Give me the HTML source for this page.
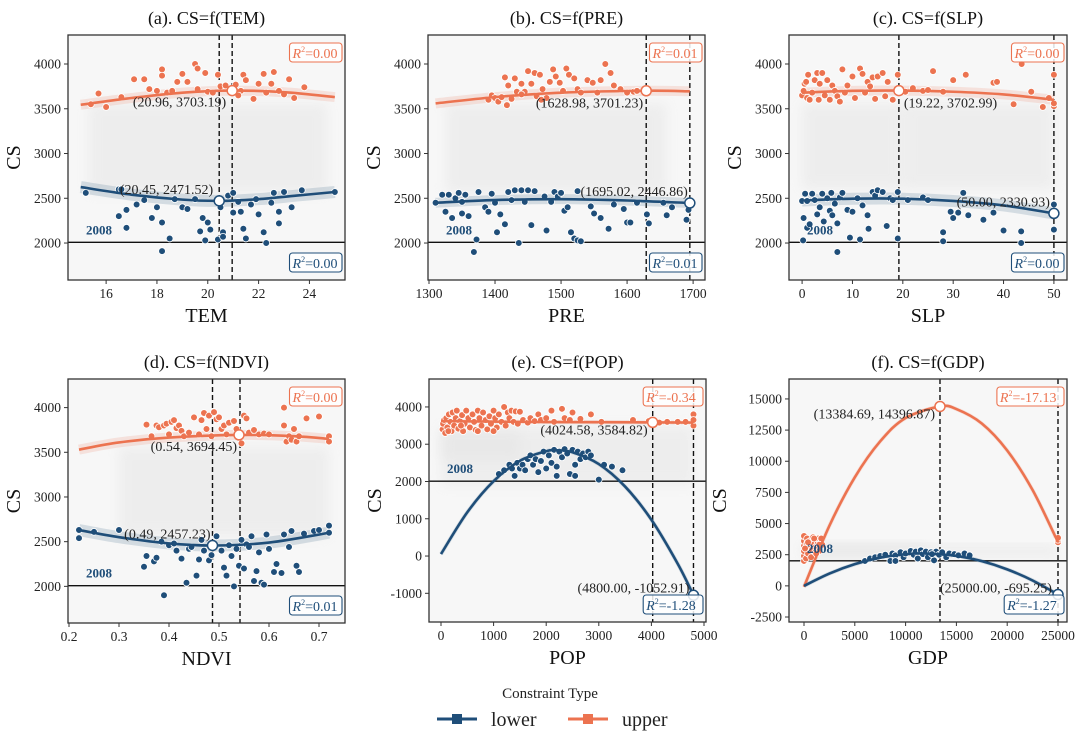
<!DOCTYPE html>
<html><head><meta charset="utf-8"><style>
html,body{margin:0;padding:0;background:#fff;}
svg{display:block;font-family:"Liberation Serif",serif;}
</style></head><body>
<svg id="chart" width="1080" height="746" viewBox="0 0 1080 746" xmlns="http://www.w3.org/2000/svg">
<defs>
<filter id="blur" x="-20%" y="-20%" width="140%" height="140%"><feGaussianBlur stdDeviation="6"/></filter>
</defs>
<g id="legend">
<text x="550" y="698" text-anchor="middle" font-size="15" fill="#222">Constraint Type</text>
<g>
<line x1="437" y1="719" x2="477" y2="719" stroke="#1f4e79" stroke-width="3"/>
<rect x="452" y="714" width="10" height="10" fill="#1f4e79"/>
<text x="491" y="726" font-size="20" fill="#222">lower</text>
</g>
<g>
<line x1="568" y1="719" x2="608" y2="719" stroke="#ec7350" stroke-width="3"/>
<rect x="583" y="714" width="10" height="10" fill="#ec7350"/>
<text x="622" y="726" font-size="20" fill="#222">upper</text>
</g>
</g>
</svg>
<script>
// ---------- data ----------
const yTicksStd = [2000,2500,3000,3500,4000];
const temTicks = [16,18,20,22,24];
const preTicks = [1300,1400,1500,1600,1700];
const slpTicks = [0,10,20,30,40,50];
const ndviTicks = [0.2,0.3,0.4,0.5,0.6,0.7];
const popTicks = [0,1000,2000,3000,4000,5000];
const popYTicks = [-1000,0,1000,2000,3000,4000];
const gdpTicks = [0,5000,10000,15000,20000,25000];
const gdpYTicks = [-2500,0,2500,5000,7500,10000,12500,15000];

const temUpper = [[15.4,3550],[15.7,3670],[16.0,3520],[16.6,3630],[17.1,3830],[17.5,3830],[17.7,3720],[18.0,3700],[18.2,3940],[18.2,3870],[18.4,3680],[18.8,3800],[19.0,3890],[19.2,3800],[19.5,4000],[19.6,3950],[19.6,3720],[19.9,3900],[20.0,3690],[20.4,3880],[20.5,3750],[20.7,3760],[21.1,3770],[21.3,3700],[21.4,3880],[21.5,3820],[21.8,3610],[22.0,3780],[22.2,3890],[22.3,3680],[22.5,3780],[22.6,3910],[22.8,3700],[23.0,3660],[23.2,3830],[23.4,3620],[23.8,3740],[21.2,3650],[20.2,3680],[18.6,3700]];
const temLower = [[15.2,2560],[16.5,2600],[16.6,2600],[16.5,2300],[16.8,2370],[16.8,2170],[17.2,2430],[17.5,2480],[17.8,2280],[18.0,2400],[18.2,2230],[18.2,1910],[18.5,2050],[18.7,2490],[19.0,2400],[19.2,2380],[19.5,2490],[19.7,2130],[19.8,2280],[19.9,2030],[20.0,2230],[20.1,2150],[20.4,2040],[20.5,2400],[20.6,2120],[20.6,2070],[20.8,2530],[21.0,2340],[21.0,2560],[21.3,2350],[21.4,2160],[21.5,2050],[21.7,2430],[21.9,2490],[22.0,2320],[22.2,2120],[22.3,2000],[22.5,2450],[22.8,2220],[22.8,2350],[23.0,2570],[23.3,2400],[23.7,2590],[25.0,2570],[22.6,2560],[21.2,2460]];
const temUpperFit = [[15,3545],[17,3620],[19,3680],[20.96,3703],[23,3685],[25,3630]];
const temLowerFit = [[15,2625],[17,2540],[19,2485],[20.45,2471],[22,2490],[23.5,2530],[25,2570]];
const temVertex = [[20.96,3703.19],[20.45,2471.52]];

const preUpper = [[1390,3600],[1395,3650],[1400,3620],[1405,3580],[1410,3630],[1415,3850],[1418,3540],[1420,3760],[1425,3610],[1430,3840],[1433,3690],[1440,3780],[1445,3690],[1450,3920],[1455,3780],[1460,3900],[1463,3640],[1468,3880],[1472,3720],[1478,3620],[1483,3800],[1488,3940],[1492,3860],[1498,3790],[1503,3700],[1508,3950],[1512,3880],[1520,3840],[1525,3720],[1530,3680],[1540,3820],[1548,3790],[1555,3680],[1560,3820],[1567,4000],[1575,3900],[1580,3760],[1590,3720],[1600,3680],[1610,3690],[1615,3700],[1470,3600],[1440,3660]];
const preLower = [[1310,2450],[1320,2540],[1325,2350],[1330,2540],[1335,2280],[1340,2500],[1345,2560],[1350,2460],[1350,2330],[1355,2540],[1360,2300],[1368,1900],[1372,2040],[1375,2570],[1385,2400],[1390,2350],[1395,2550],[1400,2450],[1403,2120],[1408,2320],[1415,2210],[1420,2570],[1425,2480],[1430,2590],[1436,2000],[1440,2590],[1445,2460],[1450,2590],[1455,2200],[1460,2580],[1475,2520],[1478,2140],[1485,2460],[1490,2570],[1495,2520],[1500,2560],[1505,2360],[1510,2400],[1515,2120],[1520,2050],[1525,2030],[1530,2020],[1525,2580],[1545,2410],[1550,2330],[1560,2280],[1572,2160],[1580,2430],[1595,2380],[1600,2230],[1605,2230],[1615,2450],[1630,2320],[1633,2220],[1655,2450],[1660,2310],[1668,2400],[1690,2260],[1693,2370]];
const preUpperFit = [[1310,3560],[1400,3630],[1500,3680],[1628.98,3701],[1695,3695]];
const preLowerFit = [[1310,2450],[1400,2480],[1500,2490],[1600,2475],[1695,2447]];
const preVertex = [[1628.98,3701.23],[1695.02,2446.86]];

const slpUpper = [[0,3650],[0.3,3700],[0.5,3780],[0.8,3800],[1,3620],[1.2,3880],[1.5,3600],[2,3680],[2.5,3820],[3,3900],[3.3,3600],[3.5,3780],[4,3900],[4.5,3650],[5,3820],[5.5,3600],[6,3760],[6.5,3700],[7,3640],[7.5,3580],[8,3940],[8.5,3680],[9,3760],[10,3860],[10.5,3620],[11.5,3950],[12,3890],[12.5,3680],[13,3800],[13.5,3750],[14,3850],[14.5,3610],[15,3860],[16,3900],[16.5,3640],[17,3800],[18,3600],[19,3880],[18.8,3700],[20.5,3690],[22,3730],[24,3700],[25,3710],[26,3920],[28,3690],[30,3820],[32.5,3880],[38,3790],[38.7,3800],[42,3550],[45.5,3690],[47.8,3520],[49,3620],[50,3530],[50,3880],[43.6,4000],[50,3560]];
const slpLower = [[0,2470],[0.2,2030],[0.3,2280],[0.6,2550],[1,2170],[1,2470],[1.5,2210],[2,2550],[2.5,2480],[3,2320],[3.5,2400],[4,2550],[4.3,2240],[5,2500],[5.5,2360],[5.8,2560],[6,2310],[6.5,2440],[7,2220],[7,1900],[7.5,2510],[8,2560],[9,2370],[9.5,2060],[10,2350],[11,2500],[11.5,2040],[12,2420],[13,2310],[13.2,2160],[14,2570],[14.5,2530],[15,2590],[16,2570],[16.8,2190],[17.5,2500],[18,2480],[19,2050],[19,2570],[21,2480],[24,2510],[25,2480],[28,2120],[28,2020],[29.5,2350],[30,2280],[31,2340],[32,2560],[33,2310],[36,2260],[38,2340],[40,2140],[43.5,2130],[43.5,2000],[50,2430],[50,2150]];
const slpUpperFit = [[0,3680],[10,3700],[19.22,3703],[30,3690],[40,3660],[50,3600]];
const slpLowerFit = [[0,2475],[10,2495],[20,2495],[30,2470],[40,2420],[50,2331]];
const slpVertex = [[19.22,3702.99],[50,2330.93]];

const ndviUpper = [[0.355,3810],[0.365,3680],[0.375,3800],[0.38,3780],[0.39,3800],[0.395,3820],[0.40,3700],[0.405,3840],[0.41,3860],[0.415,3770],[0.42,3800],[0.425,3740],[0.43,3680],[0.44,3720],[0.45,3890],[0.46,3700],[0.465,3860],[0.47,3940],[0.475,3760],[0.48,3910],[0.485,3680],[0.49,3950],[0.495,3870],[0.50,3890],[0.505,3760],[0.51,3800],[0.515,3700],[0.52,3830],[0.53,3850],[0.535,3760],[0.545,3600],[0.55,3910],[0.555,3880],[0.56,3720],[0.57,3750],[0.58,3700],[0.59,3710],[0.60,3700],[0.63,4000],[0.63,3800],[0.635,3620],[0.64,3680],[0.645,3640],[0.65,3760],[0.655,3620],[0.675,3880],[0.70,3900],[0.72,3680],[0.72,3620],[0.66,3680]];
const ndviLower = [[0.22,2630],[0.22,2540],[0.25,2610],[0.30,2630],[0.35,2220],[0.355,2340],[0.37,2280],[0.375,2320],[0.385,2500],[0.39,1900],[0.40,2460],[0.41,2480],[0.415,2400],[0.425,2310],[0.435,2040],[0.44,2420],[0.445,2440],[0.455,2120],[0.46,2300],[0.465,2520],[0.47,2400],[0.48,2290],[0.485,2350],[0.495,2560],[0.505,2400],[0.51,2210],[0.515,2120],[0.52,2460],[0.525,2340],[0.53,2000],[0.535,2420],[0.54,2230],[0.545,2520],[0.55,2200],[0.555,2470],[0.56,2440],[0.565,2560],[0.57,2060],[0.575,2170],[0.58,2380],[0.585,2040],[0.59,2020],[0.595,2580],[0.60,2420],[0.61,2160],[0.615,2250],[0.625,2150],[0.63,2580],[0.64,2440],[0.645,2620],[0.655,2230],[0.66,2160],[0.67,2590],[0.69,2620],[0.70,2630],[0.72,2680],[0.72,2600]];
const ndviUpperFit = [[0.22,3530],[0.3,3610],[0.4,3665],[0.54,3694],[0.65,3680],[0.72,3650]];
const ndviLowerFit = [[0.22,2630],[0.3,2550],[0.4,2480],[0.49,2457],[0.6,2490],[0.72,2600]];
const ndviVertex = [[0.54,3694.45],[0.487,2457.23]];

const popUpper = [[30,3400],[40,3550],[60,3650],[80,3300],[100,3700],[120,3450],[150,3800],[180,3600],[200,3350],[220,3850],[250,3500],[280,3700],[300,3900],[330,3420],[360,3620],[400,3780],[420,3350],[450,3550],[480,3900],[520,3700],[550,3450],[600,3800],[630,3600],[660,3380],[700,3900],[730,3700],[770,3500],[800,3850],[850,3650],[880,3400],[920,3750],[950,3550],[1000,3900],[1030,3700],[1060,3450],[1100,3800],[1150,3600],[1200,4000],[1230,3500],[1270,3850],[1300,3700],[1340,3900],[1380,3600],[1420,3880],[1460,3550],[1500,3870],[1560,3650],[1650,3580],[1700,3700],[1780,3620],[1850,3800],[1900,3650],[2000,3700],[2100,3900],[2150,3600],[2300,3950],[2350,3700],[2450,3650],[2500,3850],[2650,3680],[2850,3800],[3050,3600],[3650,3650],[3950,3620],[4150,3580],[4300,3600],[4500,3600],[4650,3600],[4800,3800],[4800,3500],[4800,3650],[140,3350],[700,3350],[380,3500],[1000,3350]];
const popLower = [[1100,2200],[1200,2300],[1300,2450],[1350,2350],[1400,2150],[1450,2500],[1500,2350],[1550,2450],[1650,2600],[1700,2700],[1750,2450],[1800,2600],[1850,2250],[1900,2550],[1950,2800],[2000,2350],[2050,2700],[2100,2500],[2150,2850],[2200,2400],[2250,2800],[2300,2650],[2350,2870],[2400,2750],[2450,2200],[2500,2850],[2550,2450],[2600,2800],[2650,2600],[2700,2750],[2750,2650],[2800,2800],[2850,2700],[2550,2150],[3000,2050],[3100,2450],[3250,2400],[3450,2300],[2200,2150],[1600,2300]];
const popUpperFit = [[0,3620],[1500,3600],[3000,3590],[4024.58,3585],[4800,3580]];
const popLowerFit = [[0,53],[500,1174],[1000,2008],[1500,2554],[2000,2813],[2200,2836],[2500,2784],[3000,2468],[3500,1864],[4000,973],[4500,-206],[4800,-1051]];
const popVertex = [[4024.58,3584.82],[4800,-1052.91]];

const gdpUpper = [[0,2000],[0,2400],[0,2800],[0,3200],[0,3600],[0,4000],[200,2200],[200,3000],[300,3400],[300,3800],[400,2600],[500,3100],[600,3600],[700,2300],[800,2900],[900,3900],[1000,3300],[1100,2700],[1200,3600],[1300,3100],[1400,3800],[1500,2800],[1600,3400],[1700,3800],[1800,3300],[100,3000],[700,3500],[1200,2600],[25000,3500],[25000,3700],[25000,3850],[400,3500],[1000,3800],[1500,3300]];
const gdpLower = [[6000,2000],[6500,2200],[7000,2300],[7500,2400],[8000,2500],[8500,2000],[8700,2600],[9000,2450],[9500,2700],[9800,2300],[10000,2600],[10500,2800],[10800,2500],[11000,2750],[11200,2200],[11500,2850],[11700,2550],[12000,2750],[12200,2300],[12500,2700],[12800,2050],[13000,2750],[13300,2500],[13600,2700],[14000,2300],[14300,2600],[14800,2550],[15200,2450],[15800,2600],[16300,2450],[9000,2000],[12600,2550]];
const gdpUpperFit = [[0,-77],[2500,4824],[5000,8713],[7500,11600],[10000,13471],[13384.69,14397],[15000,14186],[17500,13029],[20000,10862],[22500,7688],[25000,3500]];
const gdpLowerFit = [[0,0],[2500,987],[5000,1741],[7500,2259],[10000,2542],[11760,2600],[15000,2403],[17500,1981],[20000,1324],[22500,432],[25000,-695]];
const gdpVertex = [[13384.69,14396.87],[25000,-695.25]];

const refYear = 2008;
const r2Upper = ["0.00","0.01","0.00","0.00","-0.34","-17.13"];
const r2Lower = ["0.00","0.01","0.00","0.01","-1.28","-1.27"];

// ---------- layout ----------
const ORANGE="#ec7350", BLUE="#1f4e79";
const svg=document.getElementById('chart');
const NS="http://www.w3.org/2000/svg";
function mk(tag,attrs,parent){const e=document.createElementNS(NS,tag);for(const k in attrs)e.setAttribute(k,attrs[k]);(parent||svg).appendChild(e);return e;}
function fmt(v,dec){return dec!=null?v.toFixed(dec):String(v);}
function smoothPath(pts){
  let d="M"+pts[0][0]+","+pts[0][1];
  for(let i=0;i<pts.length-1;i++){
    const p0=pts[Math.max(0,i-1)],p1=pts[i],p2=pts[i+1],p3=pts[Math.min(pts.length-1,i+2)];
    const c1=[p1[0]+(p2[0]-p0[0])/6,p1[1]+(p2[1]-p0[1])/6];
    const c2=[p2[0]-(p3[0]-p1[0])/6,p2[1]-(p3[1]-p1[1])/6];
    d+=" C"+c1[0]+","+c1[1]+" "+c2[0]+","+c2[1]+" "+p2[0]+","+p2[1];
  }
  return d;
}
const panels=[
 {id:"tem",title:"(a). CS=f(TEM)",xl:"TEM",px:[68,345],py:[35,280],xd:[14.5,25.4],yd:[1587,4324],xt:temTicks,yt:yTicksStd,xdec:null,
  up:temUpper,lo:temLower,uf:temUpperFit,lf:temLowerFit,vx:temVertex,vlines:[20.45,20.96],band:[5,6],
  cloud:[[15.3,2560,24.7,3560]],ann:[["end",-6,16],["end",-6,-7]],r2:0},
 {id:"pre",title:"(b). CS=f(PRE)",xl:"PRE",px:[428,705],py:[35,280],xd:[1298.5,1718],yd:[1587,4324],xt:preTicks,yt:yTicksStd,
  up:preUpper,lo:preLower,uf:preUpperFit,lf:preLowerFit,vx:preVertex,vlines:[1628.98,1695.02],band:[5,5],
  cloud:[[1325,2560,1660,3560]],ann:[["end",-3,17],["end",-2,-7]],r2:1},
 {id:"slp",title:"(c). CS=f(SLP)",xl:"SLP",px:[789,1067],py:[35,280],xd:[-2.6,52.6],yd:[1587,4324],xt:slpTicks,yt:yTicksStd,
  up:slpUpper,lo:slpLower,uf:slpUpperFit,lf:slpLowerFit,vx:slpVertex,vlines:[19.22,50],band:[5,6],
  cloud:[[0,2600,20,3560],[20,2600,50,3560]],ann:[["start",5,17],["end",-4,-7]],r2:2},
 {id:"ndvi",title:"(d). CS=f(NDVI)",xl:"NDVI",px:[68,345],py:[379,623],xd:[0.198,0.752],yd:[1590,4320],xt:ndviTicks,yt:yTicksStd,xdec:1,
  up:ndviUpper,lo:ndviLower,uf:ndviUpperFit,lf:ndviLowerFit,vx:ndviVertex,vlines:[0.487,0.542],band:[5,6],
  cloud:[[0.3,2560,0.72,3560]],ann:[["end",-2,16],["end",-2,-7]],r2:3},
 {id:"pop",title:"(e). CS=f(POP)",xl:"POP",px:[429,706],py:[379,622],xd:[-228,5038],yd:[-1770,4750],xt:popTicks,yt:popYTicks,
  up:popUpper,lo:popLower,uf:popUpperFit,lf:popLowerFit,vx:popVertex,vlines:[4024.58,4800],band:[2,2],
  cloud:[[0,2600,1500,3350],[0,1900,4800,3500]],ann:[["end",-5,12],["end",-4,-3]],r2:4},
 {id:"gdp",title:"(f). CS=f(GDP)",xl:"GDP",px:[789,1067],py:[379,622],xd:[-1476,25886],yd:[-2900,16600],xt:gdpTicks,yt:gdpYTicks,
  up:gdpUpper,lo:gdpLower,uf:gdpUpperFit,lf:gdpLowerFit,vx:gdpVertex,vlines:[13384.69,25000],band:[2,2],
  cloud:[[0,2300,12000,3500],[0,2300,25000,3300]],ann:[["end",-5,12],["end",-6,-2]],r2:5}
];
panels.forEach(P=>{
  const sx=v=>P.px[0]+(v-P.xd[0])/(P.xd[1]-P.xd[0])*(P.px[1]-P.px[0]);
  const sy=v=>P.py[1]-(v-P.yd[0])/(P.yd[1]-P.yd[0])*(P.py[1]-P.py[0]);
  const g=mk('g',{});
  
  
  const W=P.px[1]-P.px[0],H=P.py[1]-P.py[0];
  const bg=mk('rect',{x:P.px[0],y:P.py[0],width:W,height:H,fill:"#f7f7f7"},g);
  
  
  const cp=mk('clipPath',{id:'clip-'+P.id},g);
  mk('rect',{x:P.px[0],y:P.py[0],width:W,height:H},cp);
  const inner=mk('g',{'clip-path':'url(#clip-'+P.id+')'},g);
  P.cloud.forEach(c=>{
    const r=mk('rect',{x:sx(c[0]),y:sy(c[3]),width:sx(c[2])-sx(c[0]),height:sy(c[1])-sy(c[3]),fill:"#e2e2e2",opacity:0.45,filter:"url(#blur)"},inner);
    
    
  });
  const hl=mk('line',{x1:P.px[0],x2:P.px[1],y1:sy(refYear),y2:sy(refYear),stroke:"#111","stroke-width":1.4},inner);
  
  
  P.vlines.forEach(v=>{
    const l=mk('line',{x1:sx(v),x2:sx(v),y1:P.py[0],y2:P.py[1],stroke:"#111","stroke-width":1.4,"stroke-dasharray":"5,3"},inner);
    
    
  });
  [[P.uf,ORANGE,P.band[0],'upper'],[P.lf,BLUE,P.band[1],'lower']].forEach(f=>{
    const pts=f[0].map(p=>[sx(p[0]),sy(p[1])]);
    const b=mk('path',{d:smoothPath(pts),fill:"none",stroke:f[1],"stroke-width":f[2]*2,opacity:0.16,"stroke-linecap":"butt"},inner);
    
    
  });
  [[P.up,ORANGE,'upper'],[P.lo,BLUE,'lower']].forEach(s=>{
    s[0].forEach(p=>{
      const c=mk('circle',{cx:sx(p[0]),cy:sy(p[1]),r:3.4,fill:s[1],stroke:"#fff","stroke-width":0.8},inner);
      
      
    });
  });
  [[P.uf,ORANGE,'upper'],[P.lf,BLUE,'lower']].forEach(f=>{
    const pts=f[0].map(p=>[sx(p[0]),sy(p[1])]);
    const l=mk('path',{d:smoothPath(pts),fill:"none",stroke:f[1],"stroke-width":2.6},inner);
    
    
  });
  P.vx.forEach((v,i)=>{
    const col=i===0?ORANGE:BLUE;
    const c=mk('circle',{cx:sx(v[0]),cy:sy(v[1]),r:5,fill:"#fff",stroke:col,"stroke-width":1.5},g);
    
    
    const a=P.ann[i];
    const t=mk('text',{x:sx(v[0])+a[1],y:sy(v[1])+a[2],'text-anchor':a[0],'font-size':14,fill:"#222"},g);
    t.textContent="("+v[0].toFixed(2)+", "+v[1].toFixed(2)+")";
    
    
  });
  const yl=mk('text',{x:P.px[0]+18,y:sy(refYear)-8,'font-size':13,'font-weight':'bold',fill:BLUE},g);
  yl.textContent=String(refYear);
  
  
  [[r2Upper[P.r2],ORANGE,P.py[0]+8,'r2-upper'],[r2Lower[P.r2],BLUE,P.py[1]-27,'r2-lower']].forEach(r=>{
    const txt="=" + r[0];
    const w=16+txt.length*7.3;
    const bx=P.px[1]-3-w;
    const box=mk('rect',{x:bx,y:r[2],width:w,height:19,rx:3,fill:"#fff","fill-opacity":0.85,stroke:r[1],"stroke-width":1.1},g);
    
    
    const t=mk('text',{x:bx+3,y:r[2]+15,'font-size':14,fill:r[1]},g);
    
    
    const s1=mk('tspan',{'font-style':'italic'},t);s1.textContent="R";
    const s2=mk('tspan',{'font-size':8,dy:-6},t);s2.textContent="2";
    const s3=mk('tspan',{dy:6},t);s3.textContent=txt;
  });
  const fr=mk('rect',{x:P.px[0],y:P.py[0],width:W,height:H,fill:"none",stroke:"#333","stroke-width":1.3},g);
  
  
  P.xt.forEach(v=>{
    const x=sx(v);
    mk('line',{x1:x,x2:x,y1:P.py[1],y2:P.py[1]+4,stroke:"#333"},g);
    const t=mk('text',{x:x,y:P.py[1]+18,'text-anchor':'middle','font-size':13.5,fill:"#222"},g);
    t.textContent=fmt(v,P.xdec);
    
    
  });
  P.yt.forEach(v=>{
    const y=sy(v);
    mk('line',{x1:P.px[0]-4,x2:P.px[0],y1:y,y2:y,stroke:"#333"},g);
    const t=mk('text',{x:P.px[0]-7,y:y+4.5,'text-anchor':'end','font-size':13.5,fill:"#222"},g);
    t.textContent=String(v);
    
    
  });
  const tt=mk('text',{x:(P.px[0]+P.px[1])/2,y:P.py[0]-11,'text-anchor':'middle','font-size':18,fill:"#111"},g);
  tt.textContent=P.title;
  
  
  const xl=mk('text',{x:(P.px[0]+P.px[1])/2,y:P.py[1]+42,'text-anchor':'middle','font-size':20,fill:"#111"},g);
  xl.textContent=P.xl;
  
  
  const yx=P.px[0]-(P.id==='gdp'?63:48), ym=(P.py[0]+P.py[1])/2;
  const ylab=mk('text',{x:yx,y:ym,'text-anchor':'middle','font-size':20,fill:"#111",transform:"rotate(-90 "+yx+" "+ym+")"},g);
  ylab.textContent="CS";
  
  
});
</script>
</body></html>
